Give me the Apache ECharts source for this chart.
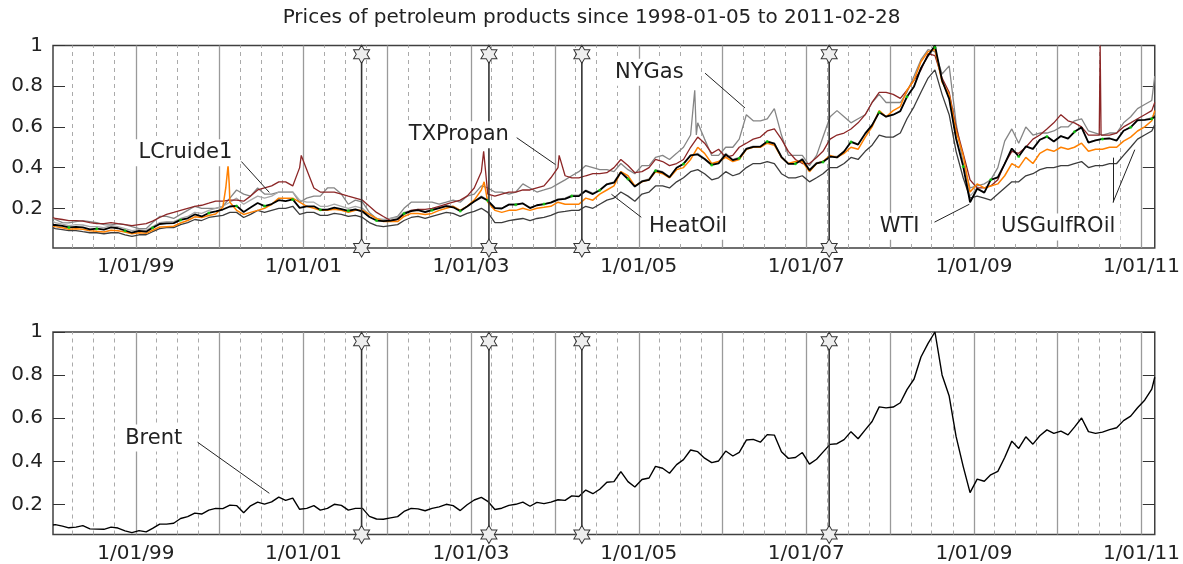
<!DOCTYPE html>
<html><head><meta charset="utf-8">
<script src="https://cdn.jsdelivr.net/npm/echarts@6/dist/echarts.min.js"></script>
<style>html,body{margin:0;padding:0;background:#fff}#c{width:1183px;height:564px}</style>
</head><body><div id="c"></div><script>
const titleText = 'Prices of petroleum products since 1998-01-05 to 2011-02-28';
const startDate = '1998-01-05', endDate = '2011-02-28';
const labelYears = [1999, 2001, 2003, 2005, 2007, 2009, 2011];
const yTickValues = [0.2, 0.4, 0.6, 0.8, 1];
const events = ['2001-09-11', '2003-03-20', '2004-04-28', '2007-04-11'];

// values: first point 1998-01-05, then the 15th of each month Jan 1998..Feb 2011, then 2011-02-28
const wti = [
 .118,.118,.114,.106,.109,.106,.097,.100,.095,.106,.102,.091,.080,
 .089,.085,.104,.123,.126,.127,.143,.151,.170,.160,.177,.185,
 .194,.209,.212,.182,.204,.226,.211,.221,.240,.235,.244,.202,
 .210,.210,.193,.194,.203,.196,.188,.195,.184,.157,.140,.137,
 .140,.147,.174,.186,.191,.181,.191,.201,.211,.205,.187,.209,
 .233,.255,.238,.201,.199,.218,.218,.224,.201,.215,.221,.228,
 .243,.246,.260,.260,.286,.270,.289,.318,.326,.377,.344,.307,
 .332,.340,.385,.376,.353,.399,.418,.460,.465,.442,.413,.421,
 .465,.437,.446,.492,.502,.503,.528,.518,.452,.418,.419,.440,
 .387,.421,.428,.454,.450,.479,.526,.513,.567,.609,.672,.650,
 .660,.677,.748,.799,.889,.950,1.00,.828,.738,.543,.406,.230,
 .296,.277,.340,.352,.418,.494,.455,.504,.492,.537,.553,.528,
 .555,.542,.576,.598,.523,.534,.541,.543,.533,.581,.598,.633,
 .635,.640,.650];
const heatOil = [
 .112,.110,.104,.097,.100,.097,.090,.087,.084,.092,.090,.084,.075,
 .080,.077,.092,.108,.110,.112,.128,.140,.158,.155,.165,.172,
 .205,.230,.190,.170,.180,.190,.200,.220,.250,.250,.250,.230,
 .210,.200,.190,.190,.195,.190,.180,.190,.190,.170,.150,.135,
 .135,.135,.160,.175,.175,.170,.175,.190,.200,.210,.190,.210,
 .240,.290,.230,.190,.180,.190,.190,.200,.190,.200,.205,.210,
 .230,.220,.220,.220,.250,.240,.270,.290,.310,.380,.360,.310,
 .330,.340,.380,.370,.350,.390,.400,.440,.500,.470,.420,.430,
 .450,.430,.440,.490,.500,.500,.520,.510,.450,.420,.430,.430,
 .380,.420,.430,.460,.450,.470,.500,.490,.550,.600,.680,.650,
 .680,.700,.780,.830,.920,.970,.980,.820,.760,.580,.460,.280,
 .320,.300,.310,.320,.360,.420,.400,.450,.420,.470,.490,.480,
 .500,.490,.500,.520,.480,.490,.490,.500,.500,.530,.550,.580,
 .600,.630,.680];
const nyGas = [
 .150,.145,.130,.128,.135,.140,.135,.130,.120,.118,.125,.120,.110,
 .100,.100,.130,.160,.160,.150,.170,.190,.210,.200,.200,.200,
 .210,.250,.290,.270,.260,.300,.270,.270,.280,.280,.280,.230,
 .250,.260,.260,.300,.300,.270,.220,.240,.230,.180,.150,.140,
 .150,.160,.200,.230,.230,.230,.230,.220,.230,.240,.230,.260,
 .270,.310,.300,.280,.280,.270,.280,.320,.300,.280,.290,.300,
 .320,.340,.360,.380,.410,.400,.390,.390,.380,.420,.390,.370,
 .410,.410,.450,.460,.440,.470,.500,.560,.620,.540,.460,.460,
 .500,.500,.540,.660,.630,.630,.640,.690,.560,.460,.460,.460,
 .410,.460,.550,.650,.680,.650,.620,.640,.660,.720,.760,.720,
 .720,.720,.770,.850,.930,.980,.970,.860,.900,.620,.420,.300,
 .310,.320,.340,.400,.530,.590,.520,.600,.560,.570,.570,.580,
 .600,.600,.630,.640,.580,.570,.560,.570,.570,.620,.650,.690,
 .710,.730,.850];
const lCruide1 = [
 .135,.130,.122,.115,.120,.118,.110,.110,.105,.115,.110,.100,.090,
 .095,.092,.110,.130,.135,.135,.150,.160,.180,.175,.190,.200,
 .210,.230,.250,.220,.240,.260,.250,.260,.280,.280,.280,.240,
 .230,.230,.210,.210,.220,.210,.200,.210,.200,.170,.150,.145,
 .150,.155,.180,.190,.195,.185,.195,.205,.215,.210,.190,.210,
 .235,.260,.240,.205,.200,.220,.220,.225,.205,.215,.220,.230,
 .245,.250,.265,.265,.290,.275,.290,.320,.330,.380,.345,.310,
 .335,.345,.390,.380,.355,.400,.420,.460,.470,.445,.415,.425,
 .470,.440,.450,.495,.505,.505,.530,.520,.455,.420,.420,.445,
 .390,.425,.430,.455,.455,.480,.530,.515,.570,.610,.675,.650,
 .660,.680,.750,.800,.890,.950,.990,.830,.740,.550,.410,.260,
 .300,.280,.340,.355,.420,.490,.455,.505,.490,.535,.550,.530,
 .555,.545,.575,.595,.525,.535,.540,.545,.535,.580,.600,.630,
 .635,.645,.665];
const usGulfROil = [
 .105,.100,.095,.090,.090,.085,.080,.080,.075,.080,.080,.070,.062,
 .070,.070,.085,.100,.105,.105,.120,.130,.145,.140,.155,.160,
 .165,.180,.180,.155,.170,.190,.180,.190,.200,.200,.210,.170,
 .180,.180,.165,.165,.175,.170,.160,.165,.155,.130,.115,.110,
 .115,.120,.140,.155,.160,.150,.160,.170,.180,.175,.160,.175,
 .185,.200,.180,.130,.130,.140,.145,.150,.140,.150,.155,.165,
 .180,.185,.190,.190,.210,.200,.220,.240,.250,.280,.260,.235,
 .270,.280,.310,.310,.300,.330,.350,.380,.390,.370,.340,.350,
 .380,.360,.370,.400,.420,.420,.430,.420,.370,.350,.350,.360,
 .330,.350,.370,.400,.400,.420,.450,.440,.480,.510,.560,.550,
 .550,.570,.640,.700,.770,.840,.880,.760,.660,.480,.350,.250,
 .260,.250,.240,.270,.300,.330,.330,.360,.370,.390,.400,.400,
 .410,.410,.420,.430,.400,.410,.410,.420,.420,.460,.500,.540,
 .560,.580,.610];
const txPropan = [
 .155,.150,.145,.140,.140,.137,.130,.125,.125,.130,.125,.120,.115,
 .120,.125,.137,.155,.170,.180,.190,.200,.210,.215,.225,.235,
 .235,.240,.240,.235,.260,.290,.300,.310,.330,.330,.310,.400,
 .390,.300,.280,.280,.280,.270,.260,.250,.240,.210,.180,.160,
 .140,.145,.170,.190,.195,.195,.200,.210,.220,.230,.240,.260,
 .300,.380,.270,.260,.270,.280,.280,.290,.290,.300,.310,.350,
 .400,.360,.350,.350,.360,.370,.370,.375,.400,.440,.410,.375,
 .380,.400,.440,.430,.410,.420,.440,.500,.550,.520,.470,.490,
 .450,.460,.500,.520,.540,.550,.580,.590,.540,.480,.440,.420,
 .420,.450,.480,.540,.560,.570,.590,.620,.660,.720,.770,.770,
 .760,.740,.780,.830,.880,.960,.950,.840,.770,.600,.470,.340,
 .300,.300,.310,.340,.420,.480,.470,.500,.540,.560,.590,.620,
 .660,.630,.620,.600,.560,.560,.560,.560,.570,.600,.620,.640,
 .660,.680,.720];
const brent = [
 .105,.107,.100,.092,.095,.102,.087,.086,.085,.095,.091,.078,.070,
 .079,.073,.089,.109,.109,.113,.135,.144,.160,.156,.174,.182,
 .181,.197,.195,.162,.194,.211,.202,.212,.234,.219,.230,.178,
 .182,.195,.174,.182,.201,.196,.174,.182,.182,.145,.133,.132,
 .138,.144,.168,.182,.180,.171,.182,.189,.201,.195,.172,.199,
 .221,.233,.215,.177,.183,.196,.201,.211,.192,.210,.204,.211,
 .222,.219,.240,.237,.267,.250,.271,.303,.306,.353,.306,.281,
 .316,.323,.377,.368,.345,.385,.408,.453,.445,.415,.394,.402,
 .448,.425,.442,.499,.502,.489,.524,.522,.445,.414,.418,.441,
 .387,.410,.443,.479,.482,.501,.538,.505,.546,.585,.653,.648,
 .652,.672,.733,.782,.884,.947,1.00,.801,.703,.516,.377,.255,
 .318,.308,.338,.354,.418,.494,.460,.514,.480,.519,.546,.530,
 .540,.523,.559,.601,.538,.530,.536,.547,.556,.589,.610,.649,
 .684,.735,.790];
// short-lived spikes (weekly readings)
const txPropanSpikes = [['2000-12-22',.46],['2003-02-25',.48],['2004-01-20',.46],['2010-07-01',.56],['2010-07-05',1.0],['2010-07-09',.56]];
const heatOilSpikes = [['2000-01-28',.30],['2000-02-07',.41],['2000-02-12',.32],['2003-02-27',.33]];
const nyGasSpikes = [['2005-09-02',.78],['2005-09-09',.56]];
const greenDots = [['1998-03-15',.106],['1998-07-15',.099],['1998-11-15',.090],['1999-03-15',.104],['1999-07-15',.143],['1999-11-15',.177],['2000-03-15',.211],['2000-07-15',.211],['2000-11-15',.243],['2001-03-15',.193],['2001-07-15',.188],['2001-11-15',.140],['2002-03-15',.174],['2002-07-15',.191],['2002-11-15',.187],['2003-03-15',.238],['2003-07-15',.218],['2003-11-15',.221],['2004-03-15',.260],['2004-07-15',.289],['2004-11-15',.344],['2005-03-15',.385],['2005-07-15',.418],['2005-11-15',.413],['2006-03-15',.446],['2006-07-15',.528],['2006-11-15',.419],['2007-03-15',.428],['2007-07-15',.526],['2007-11-15',.672],['2008-03-15',.748],['2008-07-15',.99],['2008-11-15',.406],['2009-03-15',.340],['2009-07-15',.455],['2009-11-15',.553],['2010-03-15',.576],['2010-07-15',.541],['2010-11-15',.598],['2011-02-15',.640]];

// annotations: label centre, leader start, leader end(s) (date, value)
const topNotes = [
 {text:'LCruide1', at:['1999-08-05',.473], from:['2000-04-05',.430], to:[['2000-08-05',.278]]},
 {text:'TXPropan', at:['2002-11-09',.561], from:['2003-07-19',.547], to:[['2004-01-04',.415]]},
 {text:'NYGas', at:['2005-02-16',.869], from:['2005-10-17',.864], to:[['2006-04-09',.693]]},
 {text:'HeatOil', at:['2005-08-04',.112], from:['2005-01-12',.156], to:[['2004-09-04',.269]]},
 {text:'WTI', at:['2008-02-12',.112], from:['2008-07-13',.132], to:[['2008-12-12',.220]]},
 {text:'USGulfROil', at:['2010-01-03',.108], from:['2010-08-30',.229], to:[['2010-08-30',.449],['2010-12-03',.488]]}
];
const bottomNotes = [
 {text:'Brent', at:['1999-03-20',.508], from:['1999-09-27',.489], to:[['2000-08-05',.252]]}
];

function U(s){const p=s.split('-');return Date.UTC(+p[0],+p[1]-1,+p[2]);}
const dates=[U(startDate)];
for(let y=1998;y<=2011;y++)for(let m=0;m<12;m++){if(y===2011&&m>1)break;dates.push(Date.UTC(y,m,15));}
dates.push(U(endDate));
function build(vals, extra){
  const pts = dates.map((d,i)=>[d, vals[i]]);
  (extra||[]).forEach(e=>pts.push([U(e[0]), e[1]]));
  pts.sort((a,b)=>a[0]-b[0]);
  return pts;
}
const FONT='DejaVu Sans';
const yMinTop=0.005, yMinBottom=0.061, starTop=0.957;
function fmtDate(v){const d=new Date(v);return (d.getUTCMonth()+1)+'/'+String(d.getUTCDate()).padStart(2,'0')+'/'+String(d.getUTCFullYear()%100).padStart(2,'0');}

function xAx(g){return {type:'value',gridIndex:g,min:U(startDate),max:U(endDate),
  axisLine:{show:false},axisTick:{show:false},splitLine:{show:false},
  axisLabel:{customValues:labelYears.map(y=>Date.UTC(y,0,1)),formatter:fmtDate,fontSize:20,color:'#222',fontFamily:FONT,margin:9}};}
function yAx(g,pos,min,lab){return {type:'value',gridIndex:g,position:pos,min:min,max:1,
  axisLine:{show:false},splitLine:{show:false},
  axisTick:{show:true,inside:true,length:12,customValues:yTickValues,lineStyle:{color:'#333',width:1}},
  axisLabel:{show:lab,customValues:yTickValues,formatter:v=>String(Math.round(v*10)/10),fontSize:20,color:'#222',fontFamily:FONT,margin:10}};}

function gridLines(){
  const d=[];
  for(let y=1998;y<=2011;y++)for(const m of [0,3,6,9]){
    const t=Date.UTC(y,m,1); if(t<=U(startDate)||t>=U(endDate)) continue;
    d.push(m===0?{xAxis:t,lineStyle:{type:'solid',color:'#9a9a9a',width:1.3}}:{xAxis:t,lineStyle:{type:[4,4],color:'#aaaaaa',width:1}});
  }
  return d;
}
function gridSeries(xi,yi){return {type:'line',xAxisIndex:xi,yAxisIndex:yi,data:[],silent:true,z:1,
  markLine:{silent:true,symbol:['none','none'],label:{show:false},z:1,animation:false,data:gridLines()}};}
function noteSeries(xi,yi,notes){
  const pts=notes.map(n=>({coord:[U(n.at[0]),n.at[1]],value:n.text}));
  const segs=[];
  notes.forEach(n=>n.to.forEach(t=>segs.push([{coord:[U(n.from[0]),n.from[1]]},{coord:[U(t[0]),t[1]]}])));
  return {type:'line',xAxisIndex:xi,yAxisIndex:yi,data:[],silent:true,z:20,
    markLine:{silent:true,symbol:['none','none'],label:{show:false},z:19,animation:false,
      lineStyle:{color:'#222',width:1,type:'solid'},data:segs},
    markPoint:{silent:true,symbol:'circle',symbolSize:1,itemStyle:{color:'rgba(0,0,0,0)'},z:20,animation:false,
      label:{show:true,position:'inside',formatter:p=>p.value,fontSize:21,color:'#222',fontFamily:FONT,
        backgroundColor:'#fff',padding:[3,5]},data:pts}};
}
const hexagram='path://M50,0 L64.4,25 L93.3,25 L78.9,50 L93.3,75 L64.4,75 L50,100 L35.6,75 L6.7,75 L21.1,50 L6.7,25 L35.6,25 Z';
function eventSeries(xi,yi,ymin){
  return events.map(e=>({type:'line',xAxisIndex:xi,yAxisIndex:yi,data:[[U(e),ymin],[U(e),starTop]],
    symbol:hexagram,symbolSize:[16,18],showSymbol:true,clip:false,silent:true,z:15,
    itemStyle:{color:'#eeeeee',borderColor:'#333',borderWidth:1},lineStyle:{color:'#333',width:1.6}}));
}
function lineS(data,color,w,z){return {type:'line',xAxisIndex:0,yAxisIndex:0,data:data,showSymbol:false,symbol:'none',
  lineStyle:{color:color,width:w},z:z,silent:true};}

const series=[
  gridSeries(0,0), gridSeries(1,2),
  lineS(build(nyGas,nyGasSpikes),'#858585',1.3,3),
  lineS(build(lCruide1),'#a8a8a8',1.3,3),
  lineS(build(txPropan,txPropanSpikes),'#8c2626',1.3,4),
  lineS(build(usGulfROil),'#3c3c3c',1.3,4),
  lineS(build(heatOil,heatOilSpikes),'#ff8000',1.5,5),
  lineS(build(wti),'#000000',1.8,6),
  {type:'scatter',xAxisIndex:0,yAxisIndex:0,data:greenDots.map(g=>[U(g[0]),g[1]]),symbolSize:3,
    itemStyle:{color:'#10e010'},z:7,silent:true},
  {type:'line',xAxisIndex:1,yAxisIndex:2,data:build(brent),showSymbol:false,symbol:'none',
    lineStyle:{color:'#000',width:1.4},z:6,silent:true},
  ...eventSeries(0,0,yMinTop), ...eventSeries(1,2,yMinBottom),
  noteSeries(0,0,topNotes), noteSeries(1,2,bottomNotes)
];

const chart=echarts.init(document.getElementById('c'),null,{renderer:'canvas'});
chart.setOption({
  animation:false,
  backgroundColor:'#fff',
  title:{text:titleText,left:'center',top:3,textStyle:{fontSize:20,fontWeight:'normal',color:'#222',fontFamily:FONT}},
  grid:[{left:53,right:25,top:45.5,height:202.5,show:true,borderColor:'#404040',borderWidth:1.5,backgroundColor:'transparent'},
        {left:53,right:25,top:332,height:202.5,show:true,borderColor:'#404040',borderWidth:1.5,backgroundColor:'transparent'}],
  xAxis:[xAx(0),xAx(1)],
  yAxis:[yAx(0,'left',yMinTop,true),yAx(0,'right',yMinTop,false),yAx(1,'left',yMinBottom,true),yAx(1,'right',yMinBottom,false)],
  series:series
});
</script></body></html>
